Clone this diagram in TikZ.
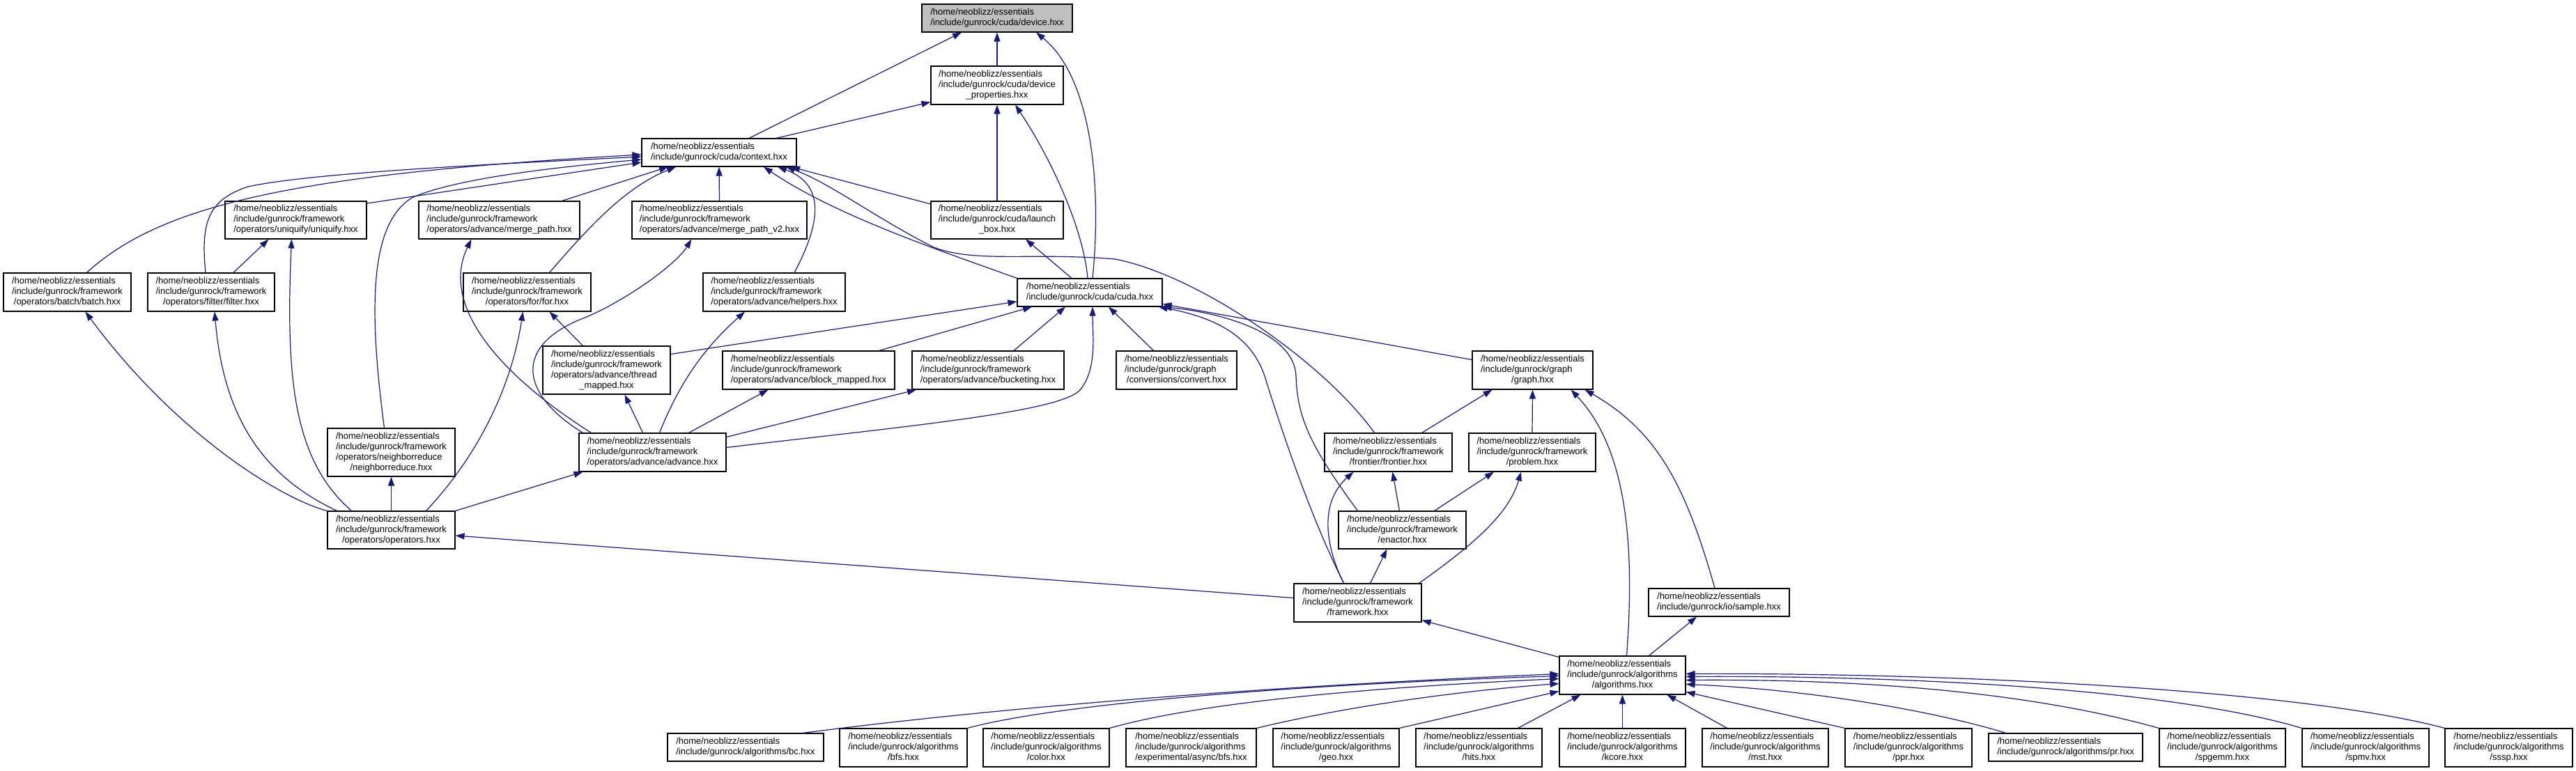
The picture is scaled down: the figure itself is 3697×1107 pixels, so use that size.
\documentclass[tikz,border=0pt]{standalone}
\usepackage{fontspec}
\setmainfont{Liberation Sans}
\usetikzlibrary{arrows.meta}
\definecolor{edgeblue}{RGB}{25,25,112}
\definecolor{rootgray}{RGB}{191,191,191}
\newcommand{\lns}[1]{\begin{tabular}{@{}l@{}}#1\end{tabular}}
\newcommand{\ctr}[1]{\multicolumn{1}{@{}c@{}}{#1}}
\newcommand{\hne}{/home/neoblizz/essentials}
\begin{document}
\begin{tikzpicture}[x=1pt,y=-1pt,
  every node/.style={font=\fontsize{13}{15}\selectfont},
  box/.style={draw=black, line width=1.1pt, fill=white, inner sep=0pt, minimum height=55pt},
  two/.style={minimum height=40pt},
  four/.style={minimum height=69pt},
  dep/.style={draw=edgeblue, line width=1.2pt, -{Triangle[length=13pt,width=9pt]}}]
\useasboundingbox (0,0) rectangle (3697,1107);

% nodes
\node[box,two,fill=rootgray,minimum width=216pt] (device) at (1431,26) {\lns{\hne\\/include/gunrock/cuda/device.hxx}};
\node[box,minimum width=190pt] (devprop) at (1431,122.5) {\lns{\hne\\/include/gunrock/cuda/device\\\ctr{\_properties.hxx}}};
\node[box,two,minimum width=222pt] (ctx) at (1032,219) {\lns{\hne\\/include/gunrock/cuda/context.hxx}};
\node[box,minimum height=54pt,minimum width=203pt] (uniq) at (424.5,316) {\lns{\hne\\/include/gunrock/framework\\\ctr{/operators/uniquify/uniquify.hxx}}};
\node[box,minimum height=54pt,minimum width=231pt] (mp) at (716.5,316) {\lns{\hne\\/include/gunrock/framework\\\ctr{/operators/advance/merge\_path.hxx}}};
\node[box,minimum height=54pt,minimum width=251pt] (mpv2) at (1032.5,316) {\lns{\hne\\/include/gunrock/framework\\\ctr{/operators/advance/merge\_path\_v2.hxx}}};
\node[box,minimum height=54pt,minimum width=190pt] (launch) at (1431,316) {\lns{\hne\\/include/gunrock/cuda/launch\\\ctr{\_box.hxx}}};
\node[box,minimum width=183pt] (batch) at (96.5,419.5) {\lns{\hne\\/include/gunrock/framework\\\ctr{/operators/batch/batch.hxx}}};
\node[box,minimum width=182pt] (filter) at (303,419.5) {\lns{\hne\\/include/gunrock/framework\\\ctr{/operators/filter/filter.hxx}}};
\node[box,minimum width=183pt] (forn) at (756.5,419.5) {\lns{\hne\\/include/gunrock/framework\\\ctr{/operators/for/for.hxx}}};
\node[box,minimum width=204pt] (helpers) at (1111,419.5) {\lns{\hne\\/include/gunrock/framework\\\ctr{/operators/advance/helpers.hxx}}};
\node[box,two,minimum width=208pt] (cuda) at (1564,420) {\lns{\hne\\/include/gunrock/cuda/cuda.hxx}};
\node[box,four,minimum width=183pt] (thread) at (870.5,531.5) {\lns{\hne\\/include/gunrock/framework\\/operators/advance/thread\\\ctr{\_mapped.hxx}}};
\node[box,minimum width=247pt] (block) at (1160.5,531.5) {\lns{\hne\\/include/gunrock/framework\\\ctr{/operators/advance/block\_mapped.hxx}}};
\node[box,minimum width=218pt] (bucket) at (1418,531.5) {\lns{\hne\\/include/gunrock/framework\\\ctr{/operators/advance/bucketing.hxx}}};
\node[box,minimum width=173pt] (convert) at (1688.5,531.5) {\lns{\hne\\/include/gunrock/graph\\\ctr{/conversions/convert.hxx}}};
\node[box,minimum width=173pt] (graph) at (2199.5,531.5) {\lns{\hne\\/include/gunrock/graph\\\ctr{/graph.hxx}}};
\node[box,four,minimum width=183pt] (nr) at (561.5,649.5) {\lns{\hne\\/include/gunrock/framework\\/operators/neighborreduce\\\ctr{/neighborreduce.hxx}}};
\node[box,minimum width=211pt] (adv) at (936.5,649.5) {\lns{\hne\\/include/gunrock/framework\\\ctr{/operators/advance/advance.hxx}}};
\node[box,minimum width=183pt] (frontier) at (1992.5,649.5) {\lns{\hne\\/include/gunrock/framework\\\ctr{/frontier/frontier.hxx}}};
\node[box,minimum width=182pt] (problem) at (2199,649.5) {\lns{\hne\\/include/gunrock/framework\\\ctr{/problem.hxx}}};
\node[box,minimum height=54pt,minimum width=183pt] (ops) at (561.5,761) {\lns{\hne\\/include/gunrock/framework\\\ctr{/operators/operators.hxx}}};
\node[box,minimum height=54pt,minimum width=183pt] (enactor) at (2012.5,761) {\lns{\hne\\/include/gunrock/framework\\\ctr{/enactor.hxx}}};
\node[box,minimum width=183pt] (fw) at (1948.5,865.5) {\lns{\hne\\/include/gunrock/framework\\\ctr{/framework.hxx}}};
\node[box,two,minimum width=202pt] (sample) at (2467,865) {\lns{\hne\\/include/gunrock/io/sample.hxx}};
\node[box,minimum width=181pt] (alg) at (2328.5,969.5) {\lns{\hne\\/include/gunrock/algorithms\\\ctr{/algorithms.hxx}}};
\node[box,two,minimum width=224pt] (bc) at (1070,1073) {\lns{\hne\\/include/gunrock/algorithms/bc.hxx}};
\node[box,minimum width=183pt] (bfs) at (1296.5,1073.5) {\lns{\hne\\/include/gunrock/algorithms\\\ctr{/bfs.hxx}}};
\node[box,minimum width=181pt] (color) at (1501.5,1073.5) {\lns{\hne\\/include/gunrock/algorithms\\\ctr{/color.hxx}}};
\node[box,minimum width=187pt] (async) at (1709.5,1073.5) {\lns{\hne\\/include/gunrock/algorithms\\\ctr{/experimental/async/bfs.hxx}}};
\node[box,minimum width=181pt] (geo) at (1917.5,1073.5) {\lns{\hne\\/include/gunrock/algorithms\\\ctr{/geo.hxx}}};
\node[box,minimum width=181pt] (hits) at (2122.5,1073.5) {\lns{\hne\\/include/gunrock/algorithms\\\ctr{/hits.hxx}}};
\node[box,minimum width=181pt] (kcore) at (2328.5,1073.5) {\lns{\hne\\/include/gunrock/algorithms\\\ctr{/kcore.hxx}}};
\node[box,minimum width=181pt] (mst) at (2533.5,1073.5) {\lns{\hne\\/include/gunrock/algorithms\\\ctr{/mst.hxx}}};
\node[box,minimum width=182pt] (ppr) at (2739,1073.5) {\lns{\hne\\/include/gunrock/algorithms\\\ctr{/ppr.hxx}}};
\node[box,two,minimum width=221pt] (pr) at (2964.5,1073) {\lns{\hne\\/include/gunrock/algorithms/pr.hxx}};
\node[box,minimum width=181pt] (spgemm) at (3189.5,1073.5) {\lns{\hne\\/include/gunrock/algorithms\\\ctr{/spgemm.hxx}}};
\node[box,minimum width=182pt] (spmv) at (3395,1073.5) {\lns{\hne\\/include/gunrock/algorithms\\\ctr{/spmv.hxx}}};
\node[box,minimum width=183pt] (sssp) at (3600.5,1073.5) {\lns{\hne\\/include/gunrock/algorithms\\\ctr{/sssp.hxx}}};

% edges: child -> parent (arrow at the included file)
\draw[dep] ([xshift=43pt]ctx.north) -- ([xshift=-51pt]device.south);
\draw[dep] (devprop.north) -- (device.south);
\draw[dep] ([xshift=4pt]cuda.north) .. controls (1582,260) and (1565,110) .. ([xshift=56pt]device.south);
\draw[dep] ([xshift=82pt]ctx.north) -- ([yshift=-24pt]devprop.west);
\draw[dep] (launch.north) -- (devprop.south);
\draw[dep] ([xshift=-3pt]cuda.north) .. controls (1555,330) and (1510,230) .. ([xshift=26pt]devprop.south);
\draw[dep] ([xshift=-26pt]cuda.north) -- ([xshift=41pt]launch.south);

\draw[dep] ([xshift=28pt]batch.north) .. controls (230,295) and (420,250) .. ([yshift=-3pt]ctx.west);
\draw[dep] ([xshift=-8pt]filter.north) .. controls (288,320) and (298,287) .. (356,268) .. controls (450,248) and (700,236) .. ([yshift=-6pt]ctx.west);
\draw[dep] ([xshift=-10pt]nr.north) .. controls (530,450) and (528,320) .. (593,283) .. controls (660,255) and (800,240) .. ([yshift=-10pt]ctx.west);
\draw[dep] ([yshift=24pt]uniq.east) -- ([yshift=-14pt]ctx.west);
\draw[dep] ([xshift=90pt]mp.north) -- ([xshift=-73pt]ctx.south);
\draw[dep] (mpv2.north) -- (ctx.south);
\draw[dep] ([xshift=32pt]forn.north) .. controls (850,320) and (900,268) .. ([xshift=-62pt]ctx.south);
\draw[dep] ([xshift=29pt]helpers.north) .. controls (1178,320) and (1185,265) .. ([xshift=84pt]ctx.south);
\draw[dep] ([yshift=23pt]launch.west) -- ([xshift=103pt]ctx.south);
\draw[dep] (cuda.north west) .. controls (1350,360) and (1200,310) .. ([xshift=64pt]ctx.south);
\draw[dep] ([xshift=-20pt]frontier.north) .. controls (1900,520) and (1720,395) .. (1600,372) .. controls (1480,362) and (1400,378) .. (1340,355) .. controls (1260,315) and (1190,262) .. ([xshift=96pt]ctx.south);

\draw[dep] ([yshift=23pt]thread.east) -- ([yshift=-13pt]cuda.west);
\draw[dep] ([yshift=15pt]graph.west) -- ([yshift=4pt]cuda.south east);
\draw[dep] ([xshift=-64pt]enactor.north) .. controls (1880,640) and (1862,600) .. (1860,540) .. controls (1858,480) and (1760,450) .. (cuda.south east);
\draw[dep] ([xshift=-20pt]fw.north) .. controls (1880,740) and (1840,620) .. (1815,540) .. controls (1795,480) and (1740,455) .. ([xshift=-6pt]cuda.south east);
\draw[dep] ([xshift=-20pt]fw.north) .. controls (1900,780) and (1895,720) .. ([xshift=-50pt]frontier.south);
\draw[dep] ([xshift=-4pt]enactor.north) -- ([xshift=6pt]frontier.south);
\draw[dep] ([xshift=46pt]enactor.north) -- ([xshift=-55pt]problem.south);
\draw[dep] ([xshift=88pt]fw.north) .. controls (2110,785) and (2165,740) .. ([xshift=-16pt]problem.south);
\draw[dep] ([xshift=48pt]frontier.north) -- ([xshift=-58pt]graph.south);
\draw[dep] (problem.north) -- (graph.south);
\draw[dep] ([xshift=6pt]alg.north) .. controls (2345,800) and (2340,650) .. ([xshift=55pt]graph.south);
\draw[dep] ([xshift=-6pt]sample.north) .. controls (2420,700) and (2380,620) .. ([xshift=75pt]graph.south);
\draw[dep] ([yshift=26pt]alg.west) -- ([yshift=-25pt]fw.east);
\draw[dep] ([xshift=38pt]alg.north) -- ([xshift=-32pt]sample.south);
\draw[dep] ([yshift=7pt]fw.west) -- ([yshift=-8pt]ops.east);
\draw[dep] ([xshift=18pt]fw.north) -- ([xshift=-22pt]enactor.south);

\draw[dep] (ops.north west) .. controls (400,715) and (250,620) .. ([xshift=26pt]batch.south);
\draw[dep] ([xshift=-78pt]ops.north) .. controls (370,680) and (320,590) .. ([xshift=5pt]filter.south);
\draw[dep] ([xshift=-57pt]ops.north) .. controls (420,660) and (410,540) .. ([xshift=-6pt]uniq.south);
\draw[dep] (ops.north) -- (nr.south);
\draw[dep] ([xshift=50pt]ops.north) .. controls (690,650) and (735,550) .. ([xshift=-6pt]forn.south);
\draw[dep] (ops.north east) -- ([xshift=-100pt]adv.south);
\draw[dep] ([xshift=32pt]filter.north) -- ([xshift=-39pt]uniq.south);
\draw[dep] ([xshift=-34pt]thread.north) -- ([xshift=32pt]forn.south);
\draw[dep] ([xshift=-14pt]adv.north) -- ([xshift=26pt]thread.south);
\draw[dep] ([xshift=-88pt]adv.north) .. controls (720,540) and (630,440) .. ([xshift=-40pt]mp.south);
\draw[dep] ([xshift=-100pt]adv.north) .. controls (745,565) and (735,495) .. (842,455) .. controls (900,430) and (970,380) .. ([xshift=-40pt]mpv2.south);
\draw[dep] ([xshift=10pt]adv.north) .. controls (975,550) and (1010,500) .. ([xshift=-42pt]helpers.south);
\draw[dep] ([xshift=52pt]adv.north) -- ([xshift=-58pt]block.south);
\draw[dep] ([yshift=22pt]adv.east) -- ([xshift=-103pt]bucket.south);
\draw[dep] ([yshift=7pt]adv.east) .. controls (1300,612) and (1520,592) .. (1550,560) .. controls (1575,530) and (1568,480) .. ([xshift=4pt]cuda.south);
\draw[dep] ([xshift=101pt]block.north) -- ([xshift=-83pt]cuda.south);
\draw[dep] ([xshift=37pt]bucket.north) -- ([xshift=-35pt]cuda.south);
\draw[dep] ([xshift=-33pt]convert.north) -- ([xshift=27pt]cuda.south);

\draw[dep] ([xshift=82pt]bc.north) .. controls (1250,1040) and (1600,995) .. ([yshift=2pt]alg.west);
\draw[dep] (bfs.north east) .. controls (1500,1015) and (1800,985) .. ([yshift=-1pt]alg.west);
\draw[dep] (color.north east) .. controls (1700,1015) and (1900,990) .. ([yshift=-5pt]alg.west);
\draw[dep] (async.north east) .. controls (1950,1010) and (2120,990) .. ([yshift=-12pt]alg.west);
\draw[dep] (geo.north east) -- ([yshift=-23pt]alg.west);
\draw[dep] ([xshift=56pt]hits.north) -- ([xshift=-60pt]alg.south);
\draw[dep] (kcore.north) -- (alg.south);
\draw[dep] ([xshift=-55pt]mst.north) -- ([xshift=64pt]alg.south);
\draw[dep] (ppr.north west) -- ([yshift=-24pt]alg.east);
\draw[dep] ([xshift=-86pt]pr.north) .. controls (2780,1022) and (2600,990) .. ([yshift=-13pt]alg.east);
\draw[dep] (spgemm.north west) .. controls (2900,990) and (2650,975) .. ([yshift=-7pt]alg.east);
\draw[dep] (spmv.north west) .. controls (3100,985) and (2700,970) .. ([yshift=-2pt]alg.east);
\draw[dep] (sssp.north west) .. controls (3300,990) and (2800,966) .. ([yshift=2pt]alg.east);
\end{tikzpicture}
\end{document}
